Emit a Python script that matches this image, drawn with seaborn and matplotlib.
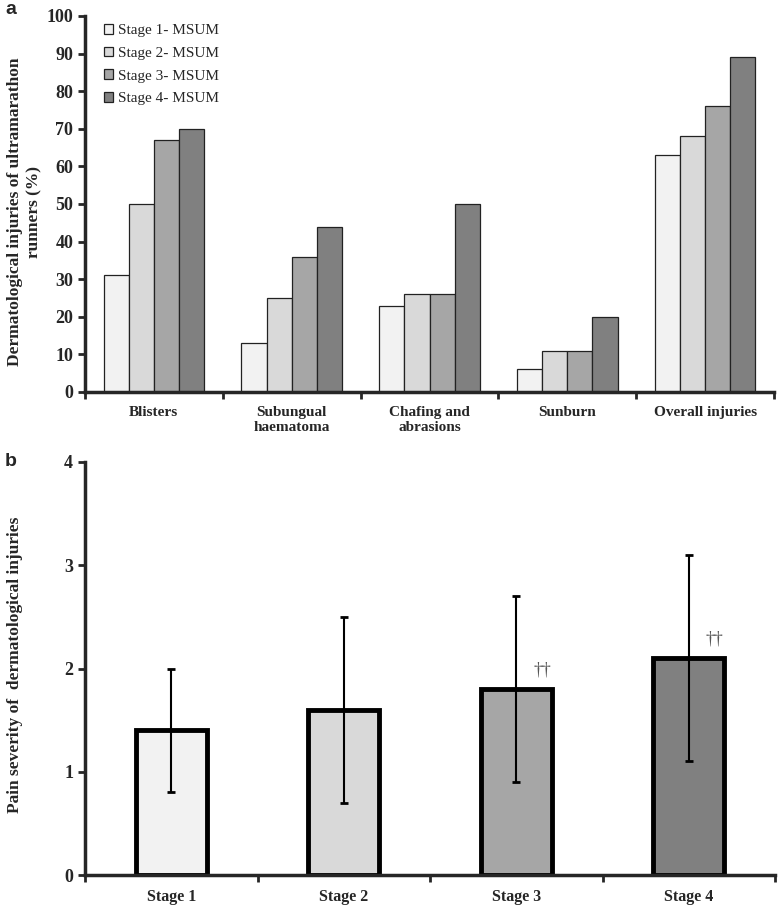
import numpy as np
import pandas as pd
import matplotlib
matplotlib.use("Agg")
import matplotlib.pyplot as plt
import seaborn as sns
from matplotlib.ticker import FixedLocator

# dados do painel a (% de corredores com lesao)
categorias = ["Blisters", "Subungual\nhaematoma", "Chafing and\nabrasions", "Sunburn", "Overall injuries"]
estagios_a = ["Stage 1- MSUM", "Stage 2- MSUM", "Stage 3- MSUM", "Stage 4- MSUM"]
stage1 = [31, 13, 23, 6, 63]
stage2 = [50, 25, 26, 11, 68]
stage3 = [67, 36, 26, 11, 76]
stage4 = [70, 44, 50, 20, 89]

# dados do painel b (severidade da dor, media e desvio)
estagios_b = ["Stage 1", "Stage 2", "Stage 3", "Stage 4"]
dor_media = [1.4, 1.6, 1.8, 2.1]
dor_dp = [0.6, 0.9, 0.9, 1.0]
marcas = ["", "", "\u2020\u2020", "\u2020\u2020"]

cores = ["#f2f2f2", "#d9d9d9", "#a6a6a6", "#808080"]

sns.set_style("ticks")
plt.rcParams["font.family"] = ["Liberation Serif", "DejaVu Serif"]

fig = plt.figure(figsize=(7.78, 9.08), dpi=100)
W, H = 778, 908
ax_a = fig.add_axes([85 / W, 1 - 392 / H, (774 - 85) / W, (392 - 16) / H])
ax_b = fig.add_axes([85 / W, 1 - 875 / H, (775 - 85) / W, (875 - 462) / H])

# ---- painel a ----
linhas = []
for est, vals in zip(estagios_a, [stage1, stage2, stage3, stage4]):
    for cat, v in zip(categorias, vals):
        linhas.append({"categoria": cat, "estagio": est, "valor": v})
df_a = pd.DataFrame(linhas)

sns.barplot(
    data=df_a, x="categoria", y="valor", hue="estagio",
    palette=cores, edgecolor="#222222", linewidth=0.9,
    width=0.73, gap=0, ax=ax_a,
)
ax_a.set_xlim(-0.5, len(categorias) - 0.5)
ax_a.set_ylim(0, 100)
ax_a.set_yticks(range(0, 101, 10))
ax_a.set_xlabel("")
ax_a.set_ylabel("Dermatological injuries of ultramarathon\nrunners (%)",
                fontsize=12.5, fontweight="bold", linespacing=1.3)
ax_a.yaxis.set_label_coords(-0.062, 0.48)
ax_a.tick_params(axis="y", labelsize=13, width=2, length=5)
for t in ax_a.get_yticklabels():
    t.set_fontweight("bold")
ax_a.tick_params(axis="x", which="major", length=0, pad=10, labelsize=11)
for t in ax_a.get_xticklabels():
    t.set_fontweight("bold")
ax_a.xaxis.set_minor_locator(FixedLocator(np.arange(-0.5, len(categorias), 1)))
ax_a.tick_params(axis="x", which="minor", length=5, width=2)

leg = ax_a.legend(
    loc="upper left", bbox_to_anchor=(0.019, 0.995), frameon=False,
    fontsize=11, handlelength=0.6, handleheight=0.6, handletextpad=0.3,
    labelspacing=0.62, borderaxespad=0,
)

# ---- painel b ----
df_b = pd.DataFrame({"estagio": estagios_b, "media": dor_media, "dp": dor_dp})
sns.barplot(
    data=df_b, x="estagio", y="media", hue="estagio", palette=cores,
    edgecolor="black", linewidth=3.5, width=0.41, legend=False, ax=ax_b,
)
ax_b.errorbar(
    x=np.arange(len(estagios_b)), y=df_b["media"], yerr=df_b["dp"],
    fmt="none", ecolor="black", elinewidth=1.5, capsize=3, capthick=2, zorder=5,
)
for i, (m, d, s) in enumerate(zip(dor_media, dor_dp, marcas)):
    if s:
        ax_b.text(i + 0.1, m + 0.1, s, fontsize=13, color="#555555",
                  ha="left", va="bottom")
ax_b.set_xlim(-0.5, len(estagios_b) - 0.5)
ax_b.set_ylim(0, 4)
ax_b.set_yticks(range(0, 5))
ax_b.set_xlabel("")
ax_b.set_ylabel("Pain severity of  dermatological injuries",
                fontsize=12.5, fontweight="bold")
ax_b.yaxis.set_label_coords(-0.09, 0.51)
ax_b.tick_params(axis="y", labelsize=13, width=2, length=5)
for t in ax_b.get_yticklabels():
    t.set_fontweight("bold")
ax_b.tick_params(axis="x", which="major", length=0, pad=10, labelsize=11.5)
for t in ax_b.get_xticklabels():
    t.set_fontweight("bold")
ax_b.xaxis.set_minor_locator(FixedLocator(np.arange(-0.5, len(estagios_b), 1)))
ax_b.tick_params(axis="x", which="minor", length=5, width=2)

for ax in (ax_a, ax_b):
    sns.despine(ax=ax)
    ax.spines["left"].set_linewidth(2.5)
    ax.spines["bottom"].set_linewidth(2.5)

fig.text(5 / W, 1 - 10 / H, "a", fontsize=14, fontweight="bold",
         family="Liberation Sans", va="center")
fig.text(5 / W, 1 - 462 / H, "b", fontsize=14, fontweight="bold",
         family="Liberation Sans", va="center")

fig.savefig("out.png", dpi=100)
